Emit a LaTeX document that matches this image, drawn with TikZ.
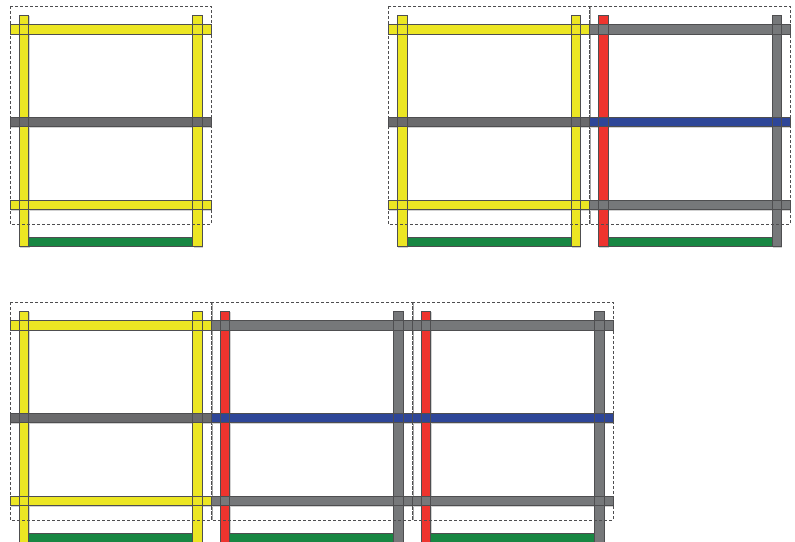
\documentclass[tikz,border=0pt]{standalone}
\usetikzlibrary{calc}
\definecolor{yelc}{HTML}{ECE623}
\definecolor{dgrc}{HTML}{6A6A6C}
\definecolor{grc}{HTML}{76787A}
\definecolor{bluc}{HTML}{2E4698}
\definecolor{redc}{HTML}{EE342E}
\definecolor{grnc}{HTML}{188743}
\definecolor{edgc}{HTML}{4E4E50}

\begin{document}
\begin{tikzpicture}[x=1pt,y=-1pt,
    edge/.style={draw=edgc,line width=0.6pt},
    shade/.style={fill=black!18},
    frame/.style={draw=edgc,dash pattern=on 3pt off 2pt,line width=0.5pt}]
  \clip (0,0) rectangle (795,541);
  % joints between neighbouring modules
  \foreach \jx/\jy in {589.3/6, 211/302, 412/302}
    \draw[black!35,line width=0.4pt] (\jx+0.8,\jy) -- (\jx+0.8,\jy+218);
  % one shelf module per entry: origin, left post, right post, top/mid/bottom rail
  \foreach \mx/\my/\pl/\pr/\rt/\rm/\rb in {10/6/yelc/yelc/yelc/dgrc/yelc, 388.3/6/yelc/yelc/yelc/dgrc/yelc, 589.3/6/redc/grc/grc/bluc/grc, 10/302/yelc/yelc/yelc/dgrc/yelc, 211/302/redc/grc/grc/bluc/grc, 412/302/redc/grc/grc/bluc/grc} {
    \begin{scope}[shift={(\mx,\my)}]
      \fill[shade] (10.1,9.8) rectangle (19.5,241.6);
      \fill[shade] (183.5,9.8) rectangle (192.8,241.6);
      \fill[shade] (0.8,19.1) rectangle (201.5,28.9);
      \fill[shade] (0.8,112.1) rectangle (201.5,121.6);
      \fill[shade] (0.8,195.1) rectangle (201.5,204.6);
      \fill[\pl] (9.3,9) rectangle (18.7,240.7);
      \fill[\pr] (182.7,9) rectangle (192,240.7);
      \fill[grnc] (18.7,231.7) rectangle (182.7,240.7);
      \fill[\rt] (0,18.3) rectangle (201,28);
      \fill[\rm] (0,111.3) rectangle (201,120.7);
      \fill[\rb] (0,194.3) rectangle (201,203.7);
      \draw[edge] (9.3,9) rectangle (18.7,240.7);
      \draw[edge] (182.7,9) rectangle (192,240.7);
      \draw[edge] (18.7,231.7) rectangle (182.7,240.7);
      \draw[edge] (0,18.3) rectangle (201,28);
      \draw[edge] (0,111.3) rectangle (201,120.7);
      \draw[edge] (0,194.3) rectangle (201,203.7);
      \draw[frame] (0,0) rectangle (201,218);
    \end{scope}
  }
\end{tikzpicture}
\end{document}
